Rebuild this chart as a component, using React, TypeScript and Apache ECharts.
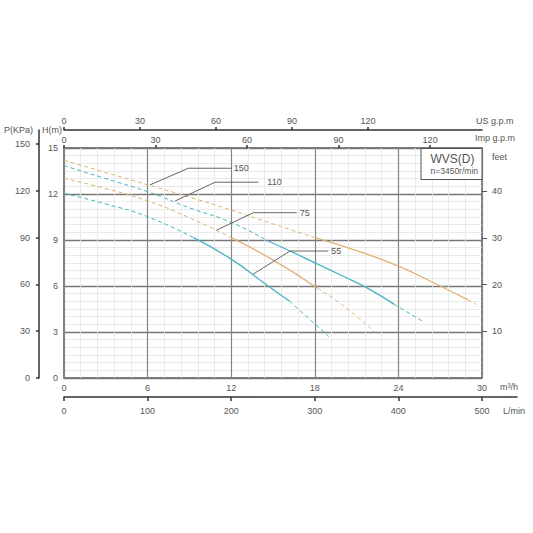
import React, { useEffect, useRef } from 'react';
import * as echarts from 'echarts';

// tick values for the secondary scales
const litreTicks = [0, 100, 200, 300, 400, 500];
const usGpmTicks = [0, 30, 60, 90, 120];
const impGpmTicks = [0, 30, 60, 90, 120];
const pressureTicks = [0, 30, 60, 90, 120, 150];
const feetTicks = [10, 20, 30, 40];

// pump curves, [Q m³/h, H m]; dashed / solid / dashed parts
const curve150Dash = [[0, 14.2], [3, 13.4], [6, 12.6], [9, 11.8], [12, 10.95], [15, 10.05], [18, 9.15]];
const curve150Solid = [[18, 9.15], [21, 8.3], [24, 7.3], [27, 6.0], [29, 5.1]];
const curve150Tail = [[29, 5.1], [29.6, 4.8]];

const curve110Dash = [[0, 13.85], [3, 13.0], [6, 12.15], [9, 11.1], [12, 10.15], [14.5, 9.0]];
const curve110Solid = [[14.5, 9.0], [17, 7.95], [20, 6.65], [22, 5.75], [23.7, 4.8]];
const curve110Tail = [[23.7, 4.8], [25.8, 3.67]];

const curve75Dash = [[0, 13.03], [3, 12.35], [6, 11.55], [9, 10.45], [12, 9.15]];
const curve75Solid = [[12, 9.15], [15, 7.7], [18.2, 5.85]];
const curve75Tail = [[18.2, 5.85], [20, 4.75], [22.3, 3.0]];

const curve55Dash = [[0, 12.04], [3, 11.35], [6, 10.52], [9.3, 9.15]];
const curve55Solid = [[9.3, 9.15], [12, 7.75], [14.5, 6.1], [16.2, 5.0]];
const curve55Tail = [[16.2, 5.0], [19, 2.7]];

// leader lines to the curve labels
const leader150 = [[6.17, 12.59], [8.92, 13.68], [12.04, 13.68]];
const leader110 = [[7.97, 11.54], [10.84, 12.77], [13.95, 12.77]];
const leader75 = [[10.96, 9.65], [13.59, 10.78], [16.7, 10.78]];
const leader55 = [[13.59, 6.78], [16.22, 8.28], [18.97, 8.28]];

const TEAL = '#45b3c2';
const GOLD = '#dfb274';
const TEXT = '#555';
const FONT = '"Liberation Sans", Arial, sans-serif';

const curveSeries = (data: number[][], color: string, dashed: boolean) => ({
  type: 'line',
  xAxisIndex: 0,
  yAxisIndex: 0,
  data,
  smooth: true,
  symbol: 'none',
  silent: true,
  z: 3,
  lineStyle: { color, width: dashed ? 1 : 1.3, type: dashed ? [4, 3] : 'solid' }
});

const leaderSeries = (data: number[][], label: string, distance: number) => ({
  type: 'line',
  xAxisIndex: 0,
  yAxisIndex: 0,
  data,
  symbol: 'none',
  silent: true,
  z: 4,
  lineStyle: { color: '#666', width: 1 },
  endLabel: { show: true, formatter: label, color: TEXT, fontSize: 9, fontFamily: FONT, distance }
});

const App: React.FC = () => {
  const chartRef = useRef<HTMLDivElement>(null);

  useEffect(() => {
    if (!chartRef.current) return;
    const chart = echarts.init(chartRef.current, null, { renderer: 'svg' });

    const label = { color: TEXT, fontSize: 9, fontFamily: FONT };
    const axisDark = { color: '#333', width: 1.5 };

    const option: any = {
      animation: false,
      backgroundColor: '#fff',
      title: {
        text: 'WVS(D)',
        subtext: 'n=3450r/min',
        right: 51,
        top: 148,
        backgroundColor: '#fff',
        borderColor: '#555',
        borderWidth: 1,
        padding: [5, 4, 5, 10],
        itemGap: 1,
        z: 5,
        textStyle: { fontSize: 12, fontWeight: 'normal', color: TEXT, fontFamily: FONT },
        subtextStyle: { fontSize: 8.5, color: TEXT, fontFamily: FONT }
      },
      grid: [
        { left: 64, right: 51, top: 148, bottom: 155, show: true, borderColor: '#555', borderWidth: 1.5, backgroundColor: 'transparent' },
        { left: 64, right: 16, top: 148, bottom: 155, show: false },
        { left: 39, width: 10, top: 130, bottom: 155, show: false }
      ],
      xAxis: [
        {
          type: 'value', gridIndex: 0, min: 0, max: 30, interval: 6, position: 'bottom',
          axisLine: { show: false, onZero: false }, axisTick: { show: false },
          axisLabel: { ...label, margin: 5 },
          splitLine: { show: true, lineStyle: { color: '#858585', width: 1.2 } },
          minorTick: { show: false, splitNumber: 5 },
          minorSplitLine: { show: true, lineStyle: { color: '#e4e4e4', width: 0.8 } }
        },
        {
          type: 'value', gridIndex: 0, min: 0, max: 137, position: 'top', offset: 0,
          axisLine: { show: false, onZero: false },
          axisTick: { show: true, length: 3, customValues: impGpmTicks, lineStyle: axisDark },
          axisLabel: { ...label, margin: 4, customValues: impGpmTicks },
          splitLine: { show: false }
        },
        {
          type: 'value', gridIndex: 0, min: 0, max: 165, position: 'top', offset: 18,
          axisLine: { show: true, onZero: false, lineStyle: axisDark },
          axisTick: { show: true, length: 3, customValues: usGpmTicks, lineStyle: axisDark },
          axisLabel: { ...label, margin: 5, customValues: usGpmTicks },
          splitLine: { show: false }
        },
        {
          type: 'value', gridIndex: 1, min: 0, max: 542, position: 'bottom', offset: 19,
          axisLine: { show: true, onZero: false, lineStyle: axisDark },
          axisTick: { show: true, length: 4, customValues: litreTicks, lineStyle: axisDark },
          axisLabel: { ...label, margin: 9, customValues: litreTicks },
          splitLine: { show: false }
        },
        { type: 'value', gridIndex: 2, min: 0, max: 1, show: false, axisLine: { onZero: false } }
      ],
      yAxis: [
        {
          type: 'value', gridIndex: 0, min: 0, max: 15, interval: 3, position: 'left',
          axisLine: { show: false, onZero: false }, axisTick: { show: false },
          axisLabel: { ...label, margin: 6 },
          splitLine: { show: true, lineStyle: { color: '#777', width: 1.3 } },
          minorTick: { show: false, splitNumber: 6 },
          minorSplitLine: { show: true, lineStyle: { color: '#e4e4e4', width: 0.8 } }
        },
        {
          type: 'value', gridIndex: 0, min: 0, max: 49.2, position: 'right',
          axisLine: { show: false, onZero: false },
          axisTick: { show: true, length: 5, customValues: feetTicks, lineStyle: { color: '#555', width: 1 } },
          axisLabel: { ...label, margin: 10, customValues: feetTicks },
          splitLine: { show: false }
        },
        { type: 'value', gridIndex: 1, min: 0, max: 1, show: false, axisLine: { onZero: false } },
        {
          type: 'value', gridIndex: 2, min: 0, max: 159, position: 'left',
          axisLine: { show: true, onZero: false, lineStyle: axisDark },
          axisTick: { show: true, length: 3, customValues: pressureTicks, lineStyle: axisDark },
          axisLabel: { ...label, margin: 9, customValues: pressureTicks },
          splitLine: { show: false }
        }
      ],
      graphic: [
        { type: 'text', left: 4, top: 125, style: { text: 'P(KPa)', fontSize: 9, fontFamily: FONT, fill: TEXT } },
        { type: 'text', left: 42, top: 125, style: { text: 'H(m)', fontSize: 9, fontFamily: FONT, fill: TEXT } },
        { type: 'text', left: 476, top: 116, style: { text: 'US g.p.m', fontSize: 9, fontFamily: FONT, fill: TEXT } },
        { type: 'text', left: 475, top: 133, style: { text: 'Imp g.p.m', fontSize: 9, fontFamily: FONT, fill: TEXT } },
        { type: 'text', left: 492, top: 152, style: { text: 'feet', fontSize: 9, fontFamily: FONT, fill: TEXT } },
        { type: 'text', left: 500, top: 382, style: { text: 'm³/h', fontSize: 9, fontFamily: FONT, fill: TEXT } },
        { type: 'text', left: 503, top: 406, style: { text: 'L/min', fontSize: 9, fontFamily: FONT, fill: TEXT } }
      ],
      series: [
        curveSeries(curve150Dash, GOLD, true),
        curveSeries(curve150Solid, GOLD, false),
        curveSeries(curve150Tail, GOLD, true),
        curveSeries(curve110Dash, TEAL, true),
        curveSeries(curve110Solid, TEAL, false),
        curveSeries(curve110Tail, TEAL, true),
        curveSeries(curve75Dash, GOLD, true),
        curveSeries(curve75Solid, GOLD, false),
        curveSeries(curve75Tail, GOLD, true),
        curveSeries(curve55Dash, TEAL, true),
        curveSeries(curve55Solid, TEAL, false),
        curveSeries(curve55Tail, TEAL, true),
        leaderSeries(leader150, '150', 2),
        leaderSeries(leader110, '110', 9),
        leaderSeries(leader75, '75', 3),
        leaderSeries(leader55, '55', 3)
      ]
    };

    chart.setOption(option, true);

    return () => {
      chart.dispose();
    };
  }, []);

  return (
    <div
      ref={chartRef}
      style={{ position: 'absolute', left: 0, top: 0, width: '533px', height: '533px' }}
    />
  );
};

export default App;
